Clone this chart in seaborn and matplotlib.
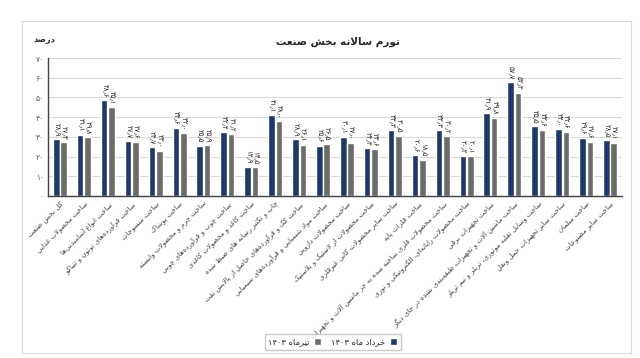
import re
import pandas as pd
import matplotlib
matplotlib.use("Agg")
import matplotlib.pyplot as plt
from matplotlib.patches import Rectangle
import seaborn as sns

# data
categories = [
    "کل بخش صنعت",
    "ساخت محصولات غذایی",
    "ساخت انواع آشامیدنی\u200cها",
    "ساخت فرآورده\u200cهای توتون و تنباکو",
    "ساخت منسوجات",
    "ساخت پوشاک",
    "ساخت چرم و محصولات وابسته",
    "ساخت چوب و فرآورده\u200cهای چوبی",
    "ساخت کاغذ و محصولات کاغذی",
    "چاپ و تکثیر رسانه های ضبط شده",
    "ساخت کک و فرآورده\u200cهای حاصل از پالایش نفت",
    "ساخت مواد شیمیایی و فرآورده\u200cهای شیمیایی",
    "ساخت محصولات دارویی",
    "ساخت محصولات از لاستیک و پلاستیک",
    "ساخت سایر محصولات کانی غیرفلزی",
    "ساخت فلزات پایه",
    "ساخت محصولات فلزی ساخته شده به جز ماشین آلات و تجهیزات",
    "ساخت محصولات رایانه\u200cای، الکترونیکی و نوری",
    "ساخت تجهیزات برقی",
    "ساخت ماشین آلات و تجهیزات طبقه\u200cبندی نشده در جای دیگر",
    "ساخت وسایل نقلیه موتوری، تریلر و نیم تریلر",
    "ساخت سایر تجهیزات حمل ونقل",
    "ساخت مبلمان",
    "ساخت سایر مصنوعات",
]
khordad = [28.9, 31.1, 48.6, 27.7, 24.7, 34.6, 25.5, 32.4, 14.9, 41.1, 28.9, 25.6,
           30.1, 24.3, 33.3, 20.6, 33.3, 20.2, 41.9, 57.7, 35.5, 34.0, 29.6, 28.5]
tir = [27.3, 29.8, 45.1, 27.6, 23.0, 32.0, 25.9, 31.2, 14.5, 38.0, 26.1, 26.5,
       27.0, 23.6, 30.5, 18.5, 30.2, 20.1, 39.8, 52.3, 33.6, 32.6, 27.6, 27.1]
series_names = ["خرداد ماه ۱۴۰۳", "تیرماه ۱۴۰۳"]
title = "تورم سالانه بخش صنعت"
unit = "درصد"
yticks = list(range(0, 71, 10))

# --- tiny persian shaper (matplotlib has no arabic shaping) ---
# letter: (isolated, final, initial, medial); 2-tuples only join to the right
FORMS = {
    "ا": (0xFE8D, 0xFE8E), "آ": (0xFE81, 0xFE82),
    "ب": (0xFE8F, 0xFE90, 0xFE91, 0xFE92), "پ": (0xFB56, 0xFB57, 0xFB58, 0xFB59),
    "ت": (0xFE95, 0xFE96, 0xFE97, 0xFE98), "ث": (0xFE99, 0xFE9A, 0xFE9B, 0xFE9C),
    "ج": (0xFE9D, 0xFE9E, 0xFE9F, 0xFEA0), "چ": (0xFB7A, 0xFB7B, 0xFB7C, 0xFB7D),
    "ح": (0xFEA1, 0xFEA2, 0xFEA3, 0xFEA4), "خ": (0xFEA5, 0xFEA6, 0xFEA7, 0xFEA8),
    "د": (0xFEA9, 0xFEAA), "ذ": (0xFEAB, 0xFEAC), "ر": (0xFEAD, 0xFEAE),
    "ز": (0xFEAF, 0xFEB0), "ژ": (0xFB8A, 0xFB8B),
    "س": (0xFEB1, 0xFEB2, 0xFEB3, 0xFEB4), "ش": (0xFEB5, 0xFEB6, 0xFEB7, 0xFEB8),
    "ص": (0xFEB9, 0xFEBA, 0xFEBB, 0xFEBC), "ض": (0xFEBD, 0xFEBE, 0xFEBF, 0xFEC0),
    "ط": (0xFEC1, 0xFEC2, 0xFEC3, 0xFEC4), "ظ": (0xFEC5, 0xFEC6, 0xFEC7, 0xFEC8),
    "ع": (0xFEC9, 0xFECA, 0xFECB, 0xFECC), "غ": (0xFECD, 0xFECE, 0xFECF, 0xFED0),
    "ف": (0xFED1, 0xFED2, 0xFED3, 0xFED4), "ق": (0xFED5, 0xFED6, 0xFED7, 0xFED8),
    "ک": (0xFB8E, 0xFB8F, 0xFB90, 0xFB91), "گ": (0xFB92, 0xFB93, 0xFB94, 0xFB95),
    "ل": (0xFEDD, 0xFEDE, 0xFEDF, 0xFEE0), "م": (0xFEE1, 0xFEE2, 0xFEE3, 0xFEE4),
    "ن": (0xFEE5, 0xFEE6, 0xFEE7, 0xFEE8), "و": (0xFEED, 0xFEEE),
    "ه": (0xFEE9, 0xFEEA, 0xFEEB, 0xFEEC), "ی": (0xFBFC, 0xFBFD, 0xFBFE, 0xFBFF),
}


def fa(text):
    text = text.replace("ي", "ی").replace("ك", "ک")
    # lam-alef ligatures
    chars = []
    i = 0
    while i < len(text):
        if text[i] == "ل" and i + 1 < len(text) and text[i + 1] in "اآ":
            chars.append("LA" if text[i + 1] == "ا" else "LAA")
            i += 2
        else:
            chars.append(text[i])
            i += 1

    def dual(c):
        return c in FORMS and len(FORMS[c]) == 4

    def joins(c):
        return c in FORMS or c in ("LA", "LAA")

    out = []
    for k, c in enumerate(chars):
        prev = chars[k - 1] if k > 0 else None
        nxt = chars[k + 1] if k + 1 < len(chars) else None
        from_prev = prev is not None and dual(prev) and joins(c)
        if c in ("LA", "LAA"):
            iso, fin = (0xFEFB, 0xFEFC) if c == "LA" else (0xFEF5, 0xFEF6)
            out.append(chr(fin if from_prev else iso))
            continue
        if c not in FORMS:
            if c != "\u200c":
                out.append(c)
            continue
        f = FORMS[c]
        to_next = dual(c) and nxt is not None and joins(nxt)
        if len(f) == 2:
            out.append(chr(f[1] if from_prev else f[0]))
        elif from_prev and to_next:
            out.append(chr(f[3]))
        elif from_prev:
            out.append(chr(f[1]))
        elif to_next:
            out.append(chr(f[2]))
        else:
            out.append(chr(f[0]))
    vis = "".join(out)[::-1]
    return re.sub(r"[۰-۹0-9.٫]+", lambda m: m.group()[::-1], vis)


def fa_num(v, fmt="{:.1f}"):
    s = fmt.format(v)
    return s.translate(str.maketrans("0123456789.", "۰۱۲۳۴۵۶۷۸۹٫"))


df = pd.DataFrame({
    "cat": categories * 2,
    "value": khordad + tir,
    "series": [series_names[0]] * len(categories) + [series_names[1]] * len(categories),
})

sns.set_style("white")
plt.rcParams["font.family"] = ["DejaVu Sans"]

fig = plt.figure(figsize=(6.4, 3.58), dpi=100)
ax = fig.add_axes([48 / 640, 1 - 196 / 358, (622 - 48) / 640, (196 - 58) / 358])

sns.barplot(data=df, x="cat", y="value", hue="series", hue_order=series_names,
            palette=["#203864", "#6b6b6b"], width=0.62, gap=0.12,
            saturation=1, ax=ax, legend=True)

ax.set_ylim(0, 70)
ax.set_xlim(-0.5, len(categories) - 0.5)
ax.set_yticks(yticks)
ax.set_yticklabels([fa_num(t, "{:d}") for t in yticks], fontsize=5.5, color="#595959")
ax.set_xticks(range(len(categories)))
ax.set_xticklabels([fa(c) for c in categories], rotation=45, ha="right",
                   rotation_mode="anchor", fontsize=5, color="#404040")
ax.tick_params(axis="both", length=0, pad=3)
ax.set_xlabel("")
ax.set_ylabel("")
ax.yaxis.grid(True, color="#d9d9d9", lw=0.8)
ax.set_axisbelow(True)
for s in ("top", "right"):
    ax.spines[s].set_visible(False)
for s in ("left", "bottom"):
    ax.spines[s].set_color("#404040")
    ax.spines[s].set_linewidth(1.0)

for cont, vals in zip(ax.containers, [khordad, tir]):
    ax.bar_label(cont, labels=[fa_num(v) for v in vals], rotation=270,
                 padding=2, fontsize=5, color="#262626")

handles, labels = ax.get_legend_handles_labels()
ax.get_legend().remove()
fig.legend([handles[1], handles[0]], [fa(series_names[1]), fa(series_names[0])],
           loc="center", bbox_to_anchor=(0.52, 1 - 342 / 358), ncol=2,
           markerfirst=False, fontsize=6, frameon=True, fancybox=False,
           edgecolor="#bfbfbf", handlelength=0.9, handleheight=0.9,
           columnspacing=1.2, handletextpad=0.5, borderpad=0.4)

fig.text(338 / 640, 1 - 42 / 358, fa(title), ha="center", va="center",
         fontsize=7.5, weight="bold", color="#262626")
fig.text(44 / 640, 1 - 40 / 358, fa(unit), ha="center", va="center",
         fontsize=6, weight="bold", color="#262626")

fig.add_artist(Rectangle((22 / 640, 1 - 353 / 358), (631 - 22) / 640, (353 - 21) / 358,
                         transform=fig.transFigure, fill=False,
                         edgecolor="#d9d9d9", lw=0.8))

fig.savefig("out.png", dpi=100)
